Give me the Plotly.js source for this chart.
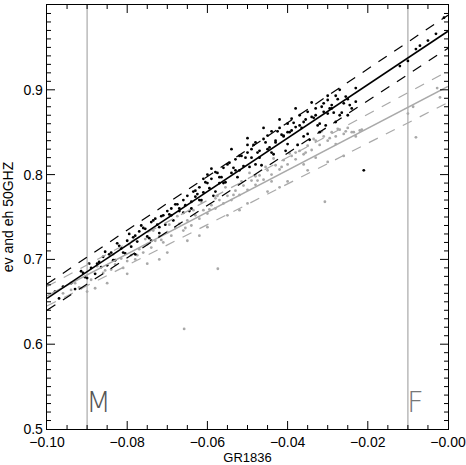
<!DOCTYPE html>
<html>
<head>
<meta charset="utf-8">
<script src="https://cdn.plot.ly/plotly-3.0.1.min.js"></script>
<style>html,body{margin:0;padding:0;background:#fff;}#chart{width:466px;height:465px;}</style>
</head>
<body>
<div id="chart"></div>
<script>
// ---- data ----
var blackX = [-0.098,-0.096,-0.094,-0.097,-0.093,-0.091,-0.089,-0.087,-0.090,-0.088,-0.086,-0.084,-0.085,-0.083,
  -0.082,-0.080,-0.078,-0.081,-0.079,-0.077,-0.076,-0.075,-0.074,-0.073,-0.072,-0.071,-0.070,-0.078,-0.074,-0.072,
  -0.069,-0.068,-0.067,-0.066,-0.065,-0.064,-0.063,-0.062,-0.061,-0.060,-0.060,-0.059,-0.058,-0.057,-0.056,-0.055,-0.066,-0.064,-0.062,-0.058,-0.056,-0.061,-0.059,
  -0.054,-0.053,-0.052,-0.051,-0.050,-0.050,-0.049,-0.048,-0.047,-0.046,-0.045,-0.045,-0.044,-0.043,-0.042,-0.041,-0.040,-0.040,-0.039,-0.038,-0.037,-0.036,-0.035,-0.035,-0.034,-0.033,-0.032,-0.031,-0.030,-0.030,-0.029,-0.028,-0.027,-0.026,-0.025,-0.024,-0.023,
  -0.052,-0.048,-0.044,-0.040,-0.036,-0.032,-0.028,-0.025,-0.054,-0.050,-0.046,-0.042,-0.038,-0.034,-0.030,-0.027,-0.023,
  -0.057,-0.053,-0.049,-0.043,-0.039,-0.033,-0.029,-0.069,-0.067,-0.063,-0.047,-0.041,-0.037,-0.031,
  -0.0695,-0.0685,-0.0675,-0.0655,-0.0645,-0.0635,-0.0625,-0.0615,-0.0605,-0.0595,-0.0585,-0.0575,-0.0565,-0.0555,-0.0545,-0.0535,-0.0525,-0.0515,-0.0505,-0.0495,-0.0485,-0.0475,-0.0465,-0.0455,-0.0445,-0.0435,-0.0425,-0.0415,-0.0405,-0.0395,-0.0385,-0.0375,-0.0365,-0.0355,-0.0345,-0.0335,-0.0325,-0.0315,-0.0305,-0.0295,-0.0285,-0.0275,-0.0265,-0.0255,-0.0245,
  -0.0915,-0.0905,-0.0895,-0.0875,-0.0865,-0.0855,-0.0845,-0.0835,-0.0825,-0.0815,-0.0805,-0.0795,-0.0785,-0.0775,-0.0765,-0.0755,-0.0745,-0.0735,-0.0725,-0.0715,-0.0705,
  -0.012,-0.010,-0.008,-0.007,-0.005,-0.003,-0.001,-0.021];
var blackY = [0.662,0.668,0.672,0.654,0.665,0.684,0.690,0.697,0.678,0.683,0.703,0.708,0.693,0.699,
  0.716,0.722,0.728,0.708,0.715,0.733,0.737,0.727,0.744,0.748,0.738,0.752,0.757,0.706,0.722,0.731,
  0.760,0.765,0.757,0.770,0.775,0.768,0.781,0.785,0.779,0.790,0.800,0.795,0.803,0.797,0.808,0.812,0.755,0.760,0.770,0.780,0.790,0.795,0.807,
  0.802,0.818,0.822,0.810,0.826,0.835,0.830,0.838,0.820,0.842,0.846,0.830,0.851,0.838,0.855,0.845,0.860,0.850,0.866,0.856,0.870,0.862,0.874,0.848,0.868,0.878,0.860,0.884,0.872,0.888,0.878,0.893,0.870,0.884,0.889,0.878,0.886,
  0.805,0.812,0.826,0.836,0.845,0.850,0.862,0.870,0.830,0.843,0.855,0.865,0.878,0.885,0.893,0.900,0.902,
  0.790,0.805,0.820,0.840,0.852,0.870,0.882,0.752,0.760,0.774,0.828,0.846,0.858,0.874,
  0.753,0.746,0.765,0.764,0.757,0.780,0.777,0.770,0.791,0.784,0.775,0.802,0.797,0.791,0.814,0.808,0.797,0.822,0.820,0.809,0.835,0.826,0.811,0.838,0.832,0.824,0.851,0.847,0.828,0.850,0.861,0.835,0.855,0.865,0.841,0.867,0.858,0.880,0.858,0.878,0.873,0.889,0.873,0.892,0.882,
  0.686,0.679,0.695,0.695,0.691,0.709,0.706,0.699,0.719,0.713,0.707,0.730,0.726,0.721,0.740,0.736,0.725,0.746,0.741,0.751,0.741,
  0.928,0.934,0.948,0.952,0.958,0.966,0.985,0.805];

var greyX = [-0.096,-0.094,-0.092,-0.090,-0.088,-0.093,-0.089,-0.086,-0.084,-0.083,-0.081,-0.080,-0.079,-0.078,-0.077,-0.076,-0.075,-0.074,-0.073,-0.072,-0.071,-0.070,-0.069,-0.068,-0.067,-0.066,-0.065,-0.064,-0.063,-0.062,-0.061,-0.060,-0.059,-0.058,-0.057,-0.056,-0.055,-0.054,-0.053,-0.052,-0.051,-0.050,-0.049,-0.048,-0.047,-0.046,-0.045,-0.044,-0.043,-0.042,-0.041,-0.040,-0.039,-0.038,-0.037,-0.036,-0.035,-0.034,-0.033,-0.032,-0.031,-0.030,-0.029,-0.028,-0.027,-0.026,-0.025,-0.024,-0.023,-0.022,
  -0.085,-0.080,-0.075,-0.070,-0.065,-0.060,-0.055,-0.050,-0.045,-0.040,-0.035,-0.030,-0.026,-0.072,-0.062,-0.052,-0.042,
  -0.058,-0.048,-0.038,-0.033,-0.028,-0.044,-0.036,
  -0.0915,-0.0875,-0.0855,-0.0835,-0.0815,-0.0795,-0.0775,-0.0755,-0.0735,-0.0715,-0.0695,-0.0675,-0.0655,-0.0635,-0.0615,-0.0595,-0.0575,-0.0555,-0.0535,-0.0515,-0.0495,-0.0475,-0.0455,-0.0435,-0.0415,-0.0395,-0.0375,-0.0355,-0.0335,-0.0315,-0.0295,-0.0275,-0.0255,-0.0235,-0.0215,
  -0.0658,-0.0574,-0.0307,-0.008,-0.002,-0.0087,-0.0027,-0.010];
var greyY = [0.660,0.664,0.667,0.662,0.666,0.672,0.676,0.684,0.688,0.694,0.690,0.698,0.705,0.700,0.712,0.708,0.718,0.714,0.722,0.727,0.720,0.732,0.728,0.737,0.742,0.734,0.746,0.740,0.752,0.748,0.758,0.754,0.764,0.760,0.770,0.766,0.775,0.770,0.781,0.776,0.787,0.782,0.793,0.788,0.799,0.794,0.805,0.800,0.811,0.806,0.817,0.812,0.822,0.818,0.828,0.824,0.834,0.829,0.840,0.835,0.845,0.840,0.850,0.845,0.853,0.848,0.855,0.850,0.845,0.852,
  0.672,0.683,0.695,0.708,0.722,0.738,0.752,0.766,0.780,0.792,0.805,0.815,0.822,0.700,0.728,0.758,0.785,
  0.772,0.798,0.826,0.820,0.836,0.792,0.812,
  0.666,0.692,0.687,0.706,0.701,0.718,0.705,0.724,0.734,0.723,0.741,0.751,0.737,0.758,0.768,0.759,0.775,0.785,0.776,0.792,0.802,0.793,0.809,0.819,0.809,0.825,0.835,0.826,0.842,0.851,0.843,0.854,0.851,0.850,0.853,
  0.618,0.689,0.768,0.844,0.891,0.880,0.902,0.872];

var fitX = [-0.10, 0.00];
var blackFit = [0.654, 0.969];
var blackUpper = [0.671, 0.988];
var blackLower = [0.640, 0.949];
var greyFit = [0.657, 0.904];
var greyUpper = [0.668, 0.922];
var greyLower = [0.645, 0.885];

var markerLines = [-0.09, -0.01];
var markerLabels = ['M', 'F'];

// ---- figure ----
var GREY = '#a9a9a9';
var X_RANGE = [-0.10, 0.00], Y_RANGE = [0.5, 1.0];
var W = 466, H = 465, M = {l: 47, r: 18, t: 5, b: 36};
var plotW = W - M.l - M.r, plotH = H - M.t - M.b;

// inside tick marks on all four sides (major + minor), built from the axis ranges
var tx = [], ty = [];
function seg(x0, y0, x1, y1) { tx.push(x0, x1, null); ty.push(y0, y1, null); }
var dyPx = (Y_RANGE[1] - Y_RANGE[0]) / plotH, dxPx = (X_RANGE[1] - X_RANGE[0]) / plotW;
for (var i = 1; i < 20; i++) {
  var xv = X_RANGE[0] + i * 0.005, lx = (i % 4 === 0 ? 8 : 4) * dyPx;
  seg(xv, Y_RANGE[0], xv, Y_RANGE[0] + lx);
  seg(xv, Y_RANGE[1], xv, Y_RANGE[1] - lx);
}
for (var j = 1; j < 50; j++) {
  var yv = Y_RANGE[0] + j * 0.01, ly = (j % 10 === 0 ? 8 : 4) * dxPx;
  seg(X_RANGE[0], yv, X_RANGE[0] + ly, yv);
  seg(X_RANGE[1], yv, X_RANGE[1] - ly, yv);
}

var traces = [
  {x: greyX, y: greyY, mode: 'markers', type: 'scatter', marker: {color: GREY, size: 2.8}, hoverinfo: 'skip'},
  {x: blackX, y: blackY, mode: 'markers', type: 'scatter', marker: {color: '#000', size: 2.8}, hoverinfo: 'skip'},
  {x: fitX, y: greyFit, mode: 'lines', line: {color: GREY, width: 1.6}},
  {x: fitX, y: greyUpper, mode: 'lines', line: {color: GREY, width: 1.2, dash: '10px,9px'}},
  {x: fitX, y: greyLower, mode: 'lines', line: {color: GREY, width: 1.2, dash: '10px,9px'}},
  {x: fitX, y: blackFit, mode: 'lines', line: {color: '#000', width: 1.7}},
  {x: fitX, y: blackUpper, mode: 'lines', line: {color: '#000', width: 1.2, dash: '10px,9px'}},
  {x: fitX, y: blackLower, mode: 'lines', line: {color: '#000', width: 1.2, dash: '10px,9px'}},
  {x: tx, y: ty, mode: 'lines', line: {color: '#000', width: 1}, hoverinfo: 'skip', connectgaps: false}
];

var shapes = markerLines.map(function (v) {
  return {type: 'line', xref: 'x', yref: 'paper', x0: v, x1: v, y0: 0, y1: 1, line: {color: GREY, width: 1.2}, layer: 'below'};
});
var annotations = markerLines.map(function (v, k) {
  return {x: v, y: 0.5, xref: 'x', yref: 'y',
    text: markerLabels[k], showarrow: false,
    xanchor: 'left', yanchor: 'bottom', xshift: -3, yshift: 8,
    font: {family: 'DejaVu Sans', size: 29, color: k === 0 ? '#555' : '#777', weight: 200}};
});

var tickFont = {family: 'Liberation Sans, Arial, Helvetica', size: 14, color: '#000'};

var layout = {
  width: W, height: H, margin: M,
  showlegend: false,
  font: {family: 'Liberation Sans, Arial, Helvetica', color: '#000'},
  xaxis: {
    range: X_RANGE, showgrid: false, zeroline: false, showline: true, mirror: true, linecolor: '#000', linewidth: 1.3,
    ticks: '', tickfont: tickFont, tickmode: 'linear', tick0: 0, dtick: 0.02, tickformat: '.2f',
    labelalias: {'0.00': '\u22120.00'},
    title: {text: 'GR1836', font: {size: 13}, standoff: 4}
  },
  yaxis: {
    range: Y_RANGE, showgrid: false, zeroline: false, showline: true, mirror: true, linecolor: '#000', linewidth: 1.3,
    ticks: '', tickfont: tickFont, tickmode: 'linear', tick0: 0, dtick: 0.1, tickformat: '.1f',
    title: {text: 'ev and eh 50GHZ', font: {size: 14}, standoff: 8}
  },
  shapes: shapes,
  annotations: annotations
};

Plotly.newPlot('chart', traces, layout, {staticPlot: true});
</script>
</body>
</html>
